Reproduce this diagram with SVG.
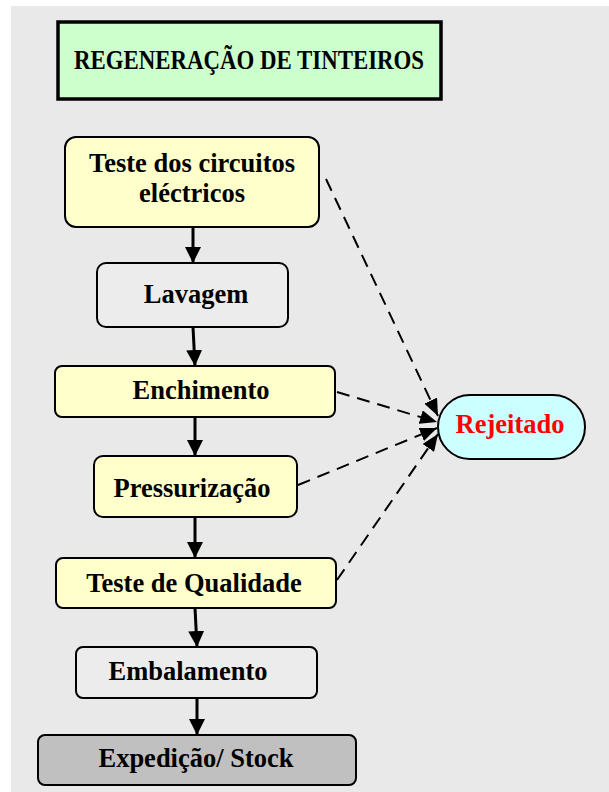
<svg xmlns="http://www.w3.org/2000/svg" width="609" height="792" viewBox="0 0 609 792">
<style>
  .node { stroke: #000; stroke-width: 2; }
  .lbl { font-family: "Liberation Serif", "Times New Roman", serif; font-weight: bold; font-size: 26.5px; fill: #000; text-anchor: middle; }
  .flow { stroke: #000; stroke-width: 3; fill: none; }
  .dash { stroke: #000; stroke-width: 2; fill: none; stroke-dasharray: 13 8; }
</style>
<defs>
  <marker id="arr" viewBox="0 0 16 16" markerWidth="16" markerHeight="16" refX="16" refY="8" orient="auto" markerUnits="userSpaceOnUse">
    <path d="M0,0 L16,8 L0,16 z" fill="#000"/>
  </marker>
  <marker id="darr" viewBox="0 0 17 14" markerWidth="17" markerHeight="14" refX="17" refY="7" orient="auto" markerUnits="userSpaceOnUse">
    <path d="M0,0 L17,7 L0,14 z" fill="#000"/>
  </marker>
</defs>
<rect x="0" y="0" width="609" height="792" fill="#ffffff"/>
<rect x="11" y="6" width="598" height="786" fill="#E9E9E9"/>

<g id="title">
  <rect x="58" y="22" width="383" height="77" fill="#CCFFCC" stroke="#000" stroke-width="3.5"/>
  <text class="lbl" x="249" y="69" font-size="29" textLength="350" lengthAdjust="spacingAndGlyphs">REGENERAÇÃO DE TINTEIROS</text>
</g>

<g id="teste-circuitos">
  <rect class="node" x="65" y="137" width="254" height="90" rx="11" fill="#FFFFCC"/>
  <text class="lbl" x="192" y="172">Teste dos circuitos</text>
  <text class="lbl" x="192" y="202">eléctricos</text>
</g>

<g id="lavagem">
  <rect class="node" x="97" y="263" width="191" height="64" rx="9" fill="#ECECEC"/>
  <text class="lbl" x="196" y="303">Lavagem</text>
</g>

<g id="enchimento">
  <rect class="node" x="55" y="366" width="280" height="51" rx="7" fill="#FFFFCC"/>
  <text class="lbl" x="201" y="399">Enchimento</text>
</g>

<g id="pressurizacao">
  <rect class="node" x="94" y="456" width="203" height="61" rx="9" fill="#FFFFCC"/>
  <text class="lbl" x="192" y="497">Pressurização</text>
</g>

<g id="teste-qualidade">
  <rect class="node" x="56" y="558" width="280" height="50" rx="7" fill="#FFFFCC"/>
  <text class="lbl" x="194" y="592">Teste de Qualidade</text>
</g>

<g id="embalamento">
  <rect class="node" x="76" y="647" width="241" height="51" rx="7" fill="#ECECEC"/>
  <text class="lbl" x="188" y="680">Embalamento</text>
</g>

<g id="expedicao">
  <rect class="node" x="38" y="735" width="318" height="50" rx="7" fill="#C0C0C0"/>
  <text class="lbl" x="196" y="767">Expedição/ Stock</text>
</g>

<g id="rejeitado">
  <rect class="node" x="438" y="395" width="147" height="64" rx="32" fill="#CCFFFF"/>
  <text class="lbl" x="510" y="433" style="fill:#FF0000">Rejeitado</text>
</g>

<g id="connectors">
  <line class="flow" x1="193" y1="227" x2="193" y2="263" marker-end="url(#arr)"/>
  <line class="flow" x1="193" y1="327" x2="195" y2="366" marker-end="url(#arr)"/>
  <line class="flow" x1="195" y1="417" x2="195" y2="456" marker-end="url(#arr)"/>
  <line class="flow" x1="195" y1="517" x2="195" y2="558" marker-end="url(#arr)"/>
  <line class="flow" x1="195" y1="608" x2="197" y2="647" marker-end="url(#arr)"/>
  <line class="flow" x1="197" y1="698" x2="197" y2="735" marker-end="url(#arr)"/>

  <line class="dash" x1="326" y1="179" x2="438" y2="416" marker-end="url(#darr)"/>
  <line class="dash" x1="337" y1="392" x2="437" y2="422" marker-end="url(#darr)"/>
  <line class="dash" x1="298" y1="485" x2="437" y2="428" marker-end="url(#darr)"/>
  <line class="dash" x1="337" y1="580" x2="438" y2="434" marker-end="url(#darr)"/>
</g>
</svg>
